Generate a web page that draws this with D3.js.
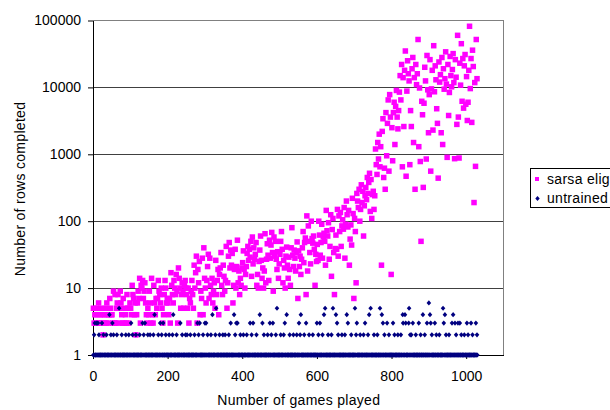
<!DOCTYPE html>
<html>
<head>
<meta charset="utf-8">
<script src="https://cdn.jsdelivr.net/npm/d3@7"></script>
<style>
  body { margin: 0; background: #fff; }
  svg { display: block; font-family: "Liberation Sans", Arial, sans-serif; }
</style>
</head>
<body>
<svg id="chart" width="610" height="410"></svg>
<script>
// sarsa elig: rows completed, recorded every other game (games 1, 3, 5, ...)
const sarsaStep = 2;
const sarsaRows = [
  5,3,4,3,5, 4,3,6,3,4, 5,3,4,2,3, 4,5,3,6,4, 3,4,7,5,4,
  4,3,9,3,8, 3,5,6,8,3, 5,9,6,4,3, 7,3,5,4,3, 8,5,3,5,6,
  5,4,11,8,7, 4,6,2,4,6, 9,7,14,3,11, 10,13,7,9,12, 6,4,3,5,4,
  9,6,3,14,4, 3,11,6,4,7, 5,7,13,9,8, 6,10,5,3,4, 8,13,10,6,7,
  6,4,7,3,17, 11,8,6,13,10, 8,16,9,3,20, 14,10,5,8,12, 9,5,11,13,10,
  8,5,10,3,7, 6,9,13,8,5, 22,10,17,30,3, 19,12,25,4,9, 7,28,4,40,14,
  10,6,13,21,32, 7,28,11,8,14, 6,9,12,5,26, 8,13,19,4,16, 20,34,11,8,22,
  15,9,13,42,5, 12,30,48,20,37, 22,33,6,11,19, 38,10,21,52,12, 18,8,14,11,20,
  24,36,19,10,16, 21,33,42,26,38, 29,50,15,58,23, 40,27,32,48,11, 16,10,25,37,60,
  26,14,20,10,18, 65,12,27,46,31, 13,52,28,44,68, 34,9,58,30,50, 27,19,35,14,23,
  32,50,70,38,12, 26,20,10,30,41, 22,14,29,19,11, 40,80,31,21,37, 28,18,34,49,7,
  36,21,30,16,27, 40,70,24,48,56, 8,120,18,85,50, 34,23,100,55,47, 60,38,11,32,25,
  45,26,100,62,31, 48,90,28,58,66, 50,22,145,72,60, 95,27,42,125,15, 75,110,34,8,39,
  62,38,150,30,120, 70,135,42,85,105, 76,160,28,90,200, 125,82,145,22,54, 88,44,220,130,7,
  110,70,12,260,200, 160,300,100,150,350, 190,280,60,170,240, 320,210,450,260,380, 520,140,420,110,250,
  280,150,240,1200,700, 500,1500,850,2000,650, 1300,22,2200,3400,450, 620,300,4200,950,2900, 6500,560,7800,3600,16,
  2500,800,4200,6000,1400, 5200,9000,3600,2400,4500, 8500,15000,6500,22000,650, 14000,2600,18000,35000,470, 8800,25000,16000,12500,700,
  4500,2600,19000,28000,1500, 14000,300,22000,11000,16000, 52000,1300,9800,780,50, 6200,3900,320,5800,20000, 12500,850,30000,9200,2100,
  7800,26000,560,9500,18000, 2300,42000,8600,21000,13000, 4800,2900,440,24000,12000, 15500,2100,28000,1400,19000, 9400,13500,34000,11200,900,
  22000,3800,8400,29000,15000, 10200,18500,32000,11800,860, 26000,14200,2800,60000,3600, 880,23000,10800,45000,6200, 27000,4900,21000,31000,5600,
  14500,3200,6000,18000,82000, 9600,27000,3000,36000,20500, 190,11800,660,52000,13500
];

// untrained: rows completed, every game (games 1, 2, 3, ...)
const untrainedRows = [
  1,1,2,1,3,1,1,1,1,3, 1,1,3,1,1,2,1,1,1,1, 1,1,1,3,1,1,1,2,1,1, 1,1,1,1,1,2,1,1,1,1, 1,1,1,4,1,1,1,2,1,1,
  1,3,1,1,2,1,1,1,1,1, 1,1,1,2,1,1,1,1,1,5, 1,1,1,1,1,1,2,1,1,1, 1,1,1,1,1,1,1,2,1,1, 1,1,1,1,1,2,1,1,1,1,
  1,3,1,1,1,2,1,1,1,1, 1,1,1,1,2,1,1,1,1,1, 1,1,1,1,2,1,1,1,1,1, 1,1,3,1,1,2,1,1,3,1, 1,1,1,1,1,1,2,1,1,1,
  1,1,2,1,1,1,1,1,1,1, 1,2,1,1,4,1,1,1,1,1, 1,1,1,1,2,1,1,1,1,3, 1,1,1,2,1,1,1,3,1,1, 1,1,1,1,2,1,1,1,1,1,
  1,1,1,2,1,1,1,1,1,1, 1,1,2,1,4,1,1,1,1,1, 1,1,1,2,1,1,1,1,1,1, 1,1,1,3,1,1,1,1,2,1, 1,1,1,1,1,1,1,2,1,1,
  1,2,1,1,1,1,1,1,1,1, 2,1,1,1,1,1,1,1,1,1, 1,2,1,1,1,1,1,1,1,3, 1,1,2,1,1,3,1,1,1,1, 1,1,1,1,2,1,1,1,1,3,
  1,1,3,1,1,1,2,1,1,1, 1,1,1,1,1,2,1,1,1,4, 1,1,1,1,1,1,1,2,1,5, 1,1,1,1,1,1,1,1,2,1, 1,1,1,1,1,1,1,2,1,1,
  1,1,1,2,1,1,1,1,1,1, 1,1,1,2,1,1,1,1,3,1, 1,1,1,1,1,1,1,4,1,1, 2,1,1,3,1,1,3,1,1,1, 1,1,1,1,2,1,1,1,1,1,
  1,1,2,1,1,1,1,1,1,1, 1,2,1,1,1,1,1,1,1,1, 3,1,1,1,2,1,1,1,3,1, 1,1,1,1,1,1,1,2,1,1, 1,1,1,1,1,1,4,1,1,1,
  1,1,1,3,1,1,1,2,1,1, 1,1,1,1,1,1,1,2,1,1, 1,1,1,3,1,1,1,2,1,1, 1,3,1,1,1,1,1,1,1,2, 1,1,5,1,1,1,1,1,1,1,
  1,1,2,1,1,1,1,1,1,1, 2,1,1,3,1,1,1,1,4,1, 1,1,1,1,1,1,2,1,1,1, 1,1,1,1,1,1,2,1,1,1, 1,1,1,1,1,2,1,1,1,1,
  1,3,1,1,2,1,4,1,1,1, 1,1,1,1,1,2,1,1,1,1, 3,1,1,1,1,1,1,1,2,1, 1,1,1,1,1,1,1,1,2,1, 1,1,1,1,1,1,1,1,1,3,
  1,1,1,2,1,1,1,3,1,1, 1,1,1,1,2,1,1,1,4,1, 1,5,1,1,1,1,1,1,1,2, 1,1,1,1,1,1,1,1,2,1, 1,1,5,1,1,1,1,1,1,1,
  4,1,1,3,1,1,2,1,1,1, 1,1,1,1,1,1,2,1,1,1, 1,1,1,1,2,1,1,1,1,4, 1,1,3,1,1,1,1,1,1,1, 1,2,1,1,1,1,1,1,1,1,
  1,5,1,1,2,1,3,1,1,1, 1,1,1,1,1,2,1,1,1,1, 1,1,1,1,2,1,1,1,3,1, 1,1,1,1,1,1,2,1,1,4, 1,1,1,5,1,1,1,1,1,1,
  1,1,2,1,1,1,1,1,1,1, 1,2,1,1,1,1,1,1,5,1, 1,1,1,4,1,1,3,1,1,1, 2,1,1,1,1,1,1,3,1,1, 1,1,2,1,1,1,1,1,1,1,
  1,1,1,3,1,1,1,2,1,1, 1,1,1,1,1,1,2,1,1,1, 1,1,1,1,2,1,1,1,1,4, 3,1,1,1,1,4,1,3,1,1, 1,1,1,1,1,3,5,1,1,2,
  1,1,2,1,1,1,3,1,1,1, 1,1,1,1,2,1,1,1,1,1, 1,1,3,1,1,1,1,2,1,1, 1,1,1,4,1,1,1,1,2,1, 1,1,1,1,3,1,1,1,1,6,
  1,1,4,1,3,1,1,2,1,1, 1,1,1,1,1,3,1,1,1,2, 1,1,1,1,1,1,1,2,1,1, 1,1,1,1,1,1,1,5,1,3, 1,1,4,1,1,2,1,1,1,1,
  1,1,1,2,1,1,1,1,1,1, 1,3,1,1,4,1,1,1,1,3, 1,1,2,1,1,1,1,3,1,1, 1,1,3,1,1,1,2,1,1,1, 1,1,1,1,2,1,1,1,1,1,
  1,3,1,1,2,1,1,1,1,1, 1,1,3,1,1,1,2,1,1,1, 1,1,1,1,1,3,1,1,2,1
];

const seriesNames = ["sarsa elig", "untrained"];
const yTicks = [1, 10, 100, 1000, 10000, 100000];
const xTicks = [0, 200, 400, 600, 800, 1000];

const plotLeft = 93, plotRight = 503.5, plotTop = 20.5, plotBottom = 355;
const FONT = 14;

const svg = d3.select("#chart");

const x = d3.scaleLinear().domain([0, 1100]).range([plotLeft, plotRight]);
const y = d3.scaleLog().domain([1, 100000]).range([plotBottom, plotTop]);

// horizontal gridlines at each decade
svg.append("g")
  .selectAll("line")
  .data(yTicks.slice(1, -1))
  .join("line")
  .attr("x1", plotLeft).attr("x2", plotRight)
  .attr("y1", d => y(d)).attr("y2", d => y(d))
  .attr("stroke", "#404040")
  .attr("stroke-width", 1)
  .attr("shape-rendering", "crispEdges");

// plot area frame (top and right edges)
svg.append("path")
  .attr("d", `M${plotLeft},${plotTop}H${plotRight}V${plotBottom}`)
  .attr("fill", "none")
  .attr("stroke", "#808080")
  .attr("stroke-width", 1)
  .attr("shape-rendering", "crispEdges");

// axes
const yAxis = svg.append("g")
  .attr("transform", `translate(${plotLeft},0)`)
  .call(d3.axisLeft(y).tickValues(yTicks).tickFormat(d3.format("d"))
    .tickSize(5).tickPadding(7).tickSizeOuter(0));

const xAxis = svg.append("g")
  .attr("transform", `translate(0,${plotBottom})`)
  .call(d3.axisBottom(x).tickValues(xTicks).tickFormat(d3.format("d"))
    .tickSize(4).tickPadding(12).tickSizeOuter(0));

[yAxis, xAxis].forEach(g => {
  g.select(".domain").attr("stroke", "#000");
  g.selectAll(".tick line").attr("stroke", "#000");
  g.selectAll(".tick text")
    .attr("font-size", FONT)
    .attr("font-family", "Liberation Sans, Arial, sans-serif")
    .attr("fill", "#000");
});

// series: sarsa elig (squares) first, untrained (diamonds) on top
const sq = 5.5;
svg.append("g")
  .selectAll("rect")
  .data(sarsaRows)
  .join("rect")
  .attr("x", (d, i) => x(i * sarsaStep + 1) - sq / 2)
  .attr("y", d => y(d) - sq / 2)
  .attr("width", sq)
  .attr("height", sq)
  .attr("fill", "#ff00ff");

const diamond = "M0,-2.6L2.3,0L0,2.6L-2.3,0Z";
svg.append("g")
  .selectAll("path")
  .data(untrainedRows)
  .join("path")
  .attr("transform", (d, i) => `translate(${x(i + 1)},${y(d)})`)
  .attr("d", diamond)
  .attr("fill", "#000080");

// axis titles
svg.append("text")
  .attr("x", (plotLeft + plotRight) / 2 + 0.5)
  .attr("y", 405)
  .attr("text-anchor", "middle")
  .attr("font-size", FONT)
  .attr("letter-spacing", 0.3)
  .attr("fill", "#000")
  .text("Number of games played");

svg.append("text")
  .attr("transform", "translate(25,189) rotate(-90)")
  .attr("text-anchor", "middle")
  .attr("font-size", FONT)
  .attr("letter-spacing", 0.3)
  .attr("fill", "#000")
  .text("Number of rows completed");

// legend
const legend = svg.append("g");
legend.append("rect")
  .attr("x", 530.5).attr("y", 168.5)
  .attr("width", 100).attr("height", 39)
  .attr("fill", "#fff")
  .attr("stroke", "#000")
  .attr("stroke-width", 1);

legend.append("rect")
  .attr("x", 535).attr("y", 177)
  .attr("width", 4).attr("height", 4)
  .attr("fill", "#ff00ff");

legend.append("path")
  .attr("transform", "translate(537.5,198.5)")
  .attr("d", "M0,-2.5L2.2,0L0,2.5L-2.2,0Z")
  .attr("fill", "#000080");

legend.selectAll("text.item")
  .data(seriesNames)
  .join("text")
  .attr("class", "item")
  .attr("x", 547)
  .attr("y", (d, i) => 183.5 + i * 19.5)
  .attr("font-size", FONT)
  .attr("letter-spacing", 0.3)
  .attr("fill", "#000")
  .text(d => d);
</script>
</body>
</html>
